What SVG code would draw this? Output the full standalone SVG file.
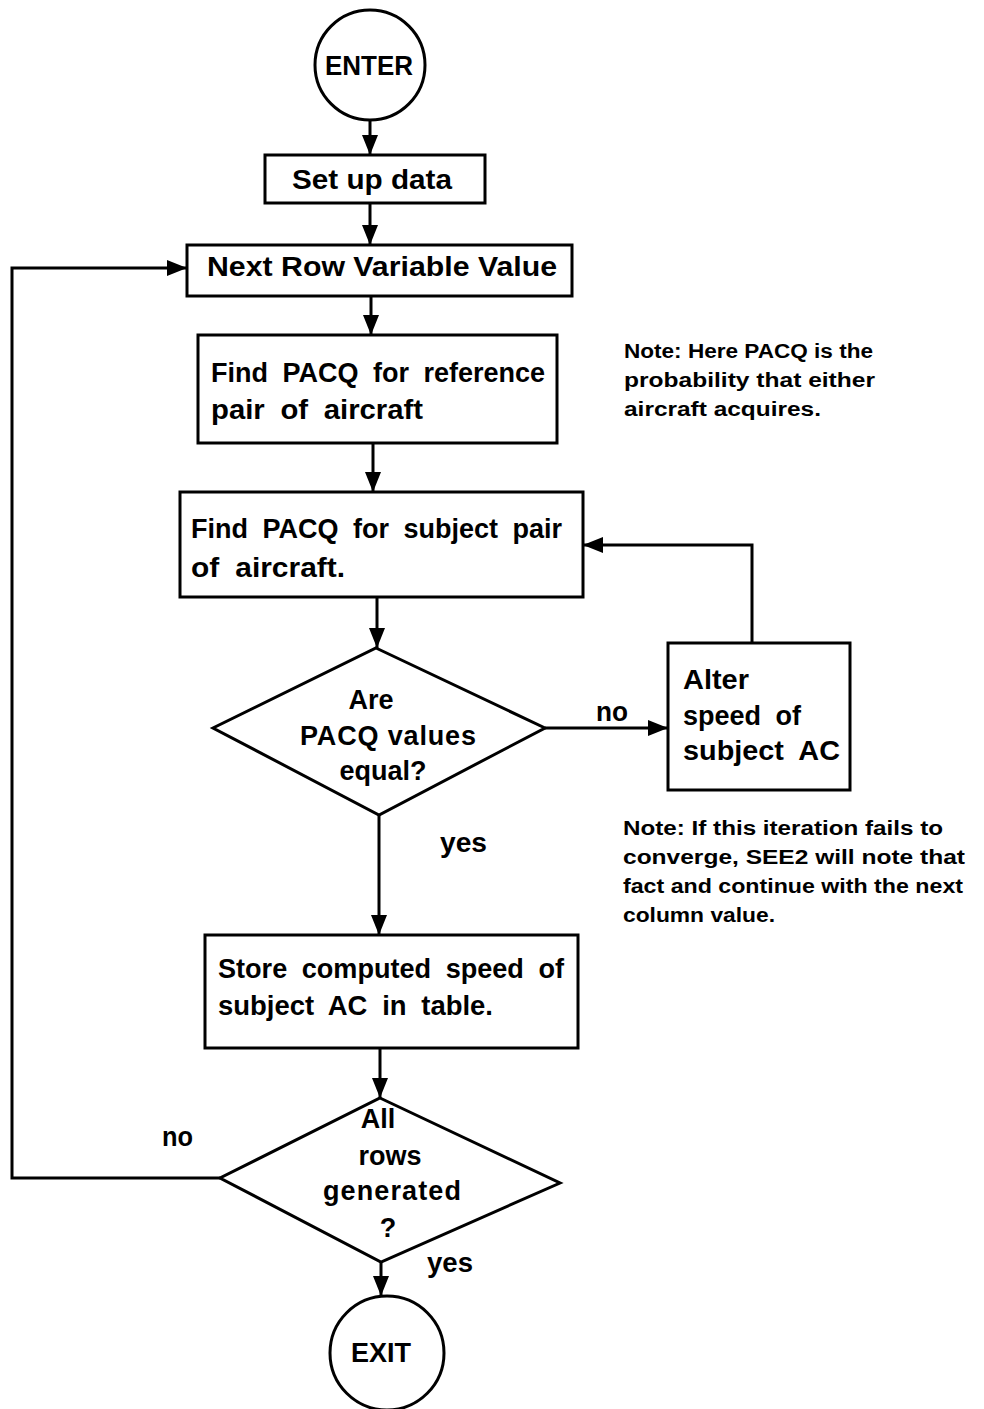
<svg xmlns="http://www.w3.org/2000/svg" width="984" height="1409" viewBox="0 0 984 1409">
<style>
.s{fill:#fff;stroke:#000;stroke-width:3}
.c{fill:none;stroke:#000;stroke-width:3}
text{font-family:"Liberation Sans",Arial,sans-serif;font-weight:bold;fill:#000}
.t{font-size:27px}
.w{word-spacing:7px}
.n{font-size:20px}
</style>
<defs>
<marker id="ah" markerUnits="userSpaceOnUse" markerWidth="20" markerHeight="16" refX="20" refY="8" orient="auto">
<path d="M0,0 L20,8 L0,16 Z" fill="#000"/>
</marker>
</defs>
<rect width="984" height="1409" fill="#fff"/>
<g id="connectors">
<line class="c" x1="370" y1="120" x2="370" y2="155" marker-end="url(#ah)"/>
<line class="c" x1="370" y1="203" x2="370" y2="245" marker-end="url(#ah)"/>
<line class="c" x1="371" y1="296" x2="371" y2="335" marker-end="url(#ah)"/>
<line class="c" x1="373" y1="443" x2="373" y2="492" marker-end="url(#ah)"/>
<line class="c" x1="377" y1="597" x2="377" y2="648" marker-end="url(#ah)"/>
<line class="c" x1="545" y1="728" x2="668" y2="728" marker-end="url(#ah)"/>
<polyline class="c" points="752,643 752,545 583,545" marker-end="url(#ah)"/>
<line class="c" x1="379" y1="815" x2="379" y2="935" marker-end="url(#ah)"/>
<line class="c" x1="380" y1="1048" x2="380" y2="1098" marker-end="url(#ah)"/>
<polyline class="c" points="220,1178 12,1178 12,268 187,268" marker-end="url(#ah)"/>
<line class="c" x1="381" y1="1262" x2="381" y2="1296" marker-end="url(#ah)"/>
<text class="t" x="596" y="721" textLength="32" lengthAdjust="spacingAndGlyphs">no</text>
<text class="t" x="440" y="852" textLength="47" lengthAdjust="spacingAndGlyphs">yes</text>
<text class="t" x="162" y="1146" textLength="31" lengthAdjust="spacingAndGlyphs">no</text>
<text class="t" x="427" y="1272" textLength="46" lengthAdjust="spacingAndGlyphs">yes</text>
</g>
<g id="enter">
<circle class="s" cx="370" cy="65" r="55"/>
<text class="t" x="325" y="75" textLength="88" lengthAdjust="spacingAndGlyphs">ENTER</text>
</g>
<g id="setup">
<rect class="s" x="265" y="155" width="220" height="48"/>
<text class="t" x="292" y="189" textLength="160" lengthAdjust="spacingAndGlyphs">Set up data</text>
</g>
<g id="nextrow">
<rect class="s" x="187" y="245" width="385" height="51"/>
<text class="t" x="207" y="276" textLength="350" lengthAdjust="spacingAndGlyphs">Next Row Variable Value</text>
</g>
<g id="findref">
<rect class="s" x="198" y="335" width="359" height="108"/>
<text class="t w" x="211" y="382" textLength="334" lengthAdjust="spacingAndGlyphs">Find PACQ for reference</text>
<text class="t w" x="211" y="419" textLength="212" lengthAdjust="spacingAndGlyphs">pair of aircraft</text>
</g>
<g id="findsub">
<rect class="s" x="180" y="492" width="403" height="105"/>
<text class="t w" x="191" y="538" textLength="371" lengthAdjust="spacingAndGlyphs">Find PACQ for subject pair</text>
<text class="t w" x="191" y="577" textLength="154" lengthAdjust="spacingAndGlyphs">of aircraft.</text>
</g>
<g id="equal">
<polygon class="s" points="376,648 545,728 379,815 213,728"/>
<text class="t" x="371" y="709" text-anchor="middle">Are</text>
<text class="t" x="388" y="745" text-anchor="middle" textLength="176" lengthAdjust="spacing">PACQ values</text>
<text class="t" x="383" y="780" text-anchor="middle">equal?</text>
</g>
<g id="alter">
<rect class="s" x="668" y="643" width="182" height="147"/>
<text class="t" x="683" y="689" textLength="66" lengthAdjust="spacingAndGlyphs">Alter</text>
<text class="t w" x="683" y="725" textLength="118" lengthAdjust="spacingAndGlyphs">speed of</text>
<text class="t w" x="683" y="760" textLength="157" lengthAdjust="spacingAndGlyphs">subject AC</text>
</g>
<g id="store">
<rect class="s" x="205" y="935" width="373" height="113"/>
<text class="t w" x="218" y="978" textLength="346" lengthAdjust="spacingAndGlyphs">Store computed speed of</text>
<text class="t w" x="218" y="1015" textLength="275" lengthAdjust="spacingAndGlyphs">subject AC in table.</text>
</g>
<g id="allrows">
<polygon class="s" points="380,1098 560,1183 381,1262 220,1178"/>
<text class="t" x="378" y="1128" text-anchor="middle">All</text>
<text class="t" x="390" y="1165" text-anchor="middle">rows</text>
<text class="t" x="392" y="1200" text-anchor="middle" textLength="138" lengthAdjust="spacing">generated</text>
<text class="t" x="388" y="1237" text-anchor="middle">?</text>
</g>
<g id="exit">
<circle class="s" cx="387" cy="1353" r="57"/>
<text class="t" x="351" y="1362" textLength="60" lengthAdjust="spacingAndGlyphs">EXIT</text>
</g>
<g id="note1">
<text class="n" x="624" y="358" textLength="249" lengthAdjust="spacingAndGlyphs">Note: Here PACQ is the</text>
<text class="n" x="624" y="387" textLength="251" lengthAdjust="spacingAndGlyphs">probability that either</text>
<text class="n" x="624" y="416" textLength="197" lengthAdjust="spacingAndGlyphs">aircraft acquires.</text>
</g>
<g id="note2">
<text class="n" x="623" y="835" textLength="320" lengthAdjust="spacingAndGlyphs">Note: If this iteration fails to</text>
<text class="n" x="623" y="864" textLength="342" lengthAdjust="spacingAndGlyphs">converge, SEE2 will note that</text>
<text class="n" x="623" y="893" textLength="340" lengthAdjust="spacingAndGlyphs">fact and continue with the next</text>
<text class="n" x="623" y="922" textLength="152" lengthAdjust="spacingAndGlyphs">column value.</text>
</g>
</svg>
